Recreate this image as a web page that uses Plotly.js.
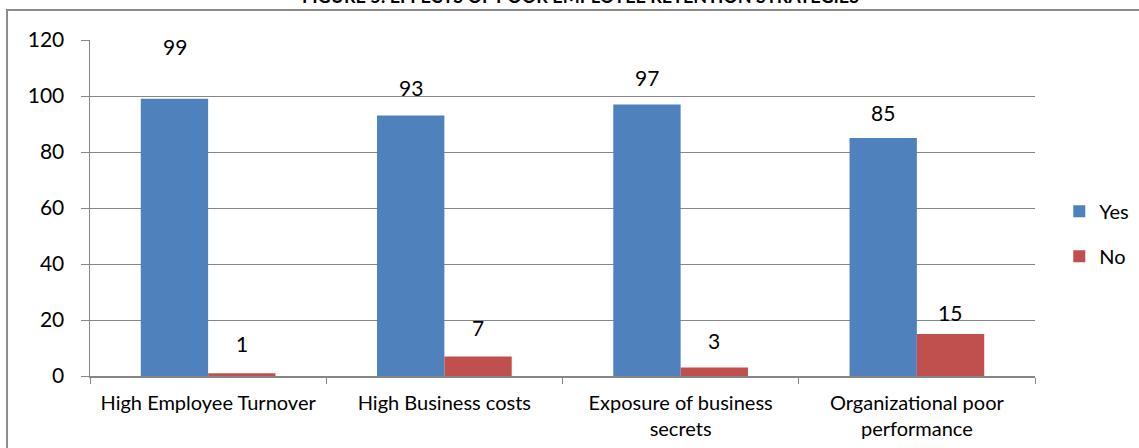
<!DOCTYPE html>
<html>
<head>
<meta charset="utf-8">
<script src="https://cdn.plot.ly/plotly-3.0.1.min.js"></script>
<style>html,body{margin:0;padding:0;background:#fff;}#chart{width:1139px;height:448px;}</style>
</head>
<body>
<div id="chart"></div>
<script>
const categories = ["High Employee Turnover", "High Business costs", "Exposure of business<br>secrets", "Organizational poor<br>performance"];
const yesValues = [99, 93, 97, 85];
const noValues = [1, 7, 3, 15];
const yTicks = [0, 20, 40, 60, 80, 100, 120];

const FONT = "Lato, 'Open Sans', sans-serif";
const blue = "#4F81BD", red = "#C0504D", grid = "#868686";

const traces = [
  {type: "bar", name: "Yes", x: categories, y: yesValues, marker: {color: blue}, legendgroup: "a", hoverinfo: "none"},
  {type: "bar", name: "No", x: categories, y: noValues, marker: {color: red}, legendgroup: "b", hoverinfo: "none"}
];

// data labels above bars
const annotations = [];
const yesShift = [52, 28, 27, 26];
const noShift = [30, 29, 27, 22];
categories.forEach((c, i) => {
  annotations.push({x: i - 0.142, y: yesValues[i], xref: "x", yref: "y", text: String(yesValues[i]), showarrow: false, yshift: yesShift[i], font: {family: FONT, size: 21, color: "#000"}});
  annotations.push({x: i + 0.142, y: noValues[i], xref: "x", yref: "y", text: String(noValues[i]), showarrow: false, yshift: noShift[i], font: {family: FONT, size: 21, color: "#000"}});
});
annotations.push({x: 0.519, y: 1.092, xref: "paper", yref: "paper", yanchor: "bottom", text: "<b>FIGURE 5: EFFECTS OF POOR EMPLOYEE RETENTION STRATEGIES</b>", showarrow: false, font: {family: FONT, size: 18, color: "#000"}});

const layout = {
  width: 1139, height: 448,
  margin: {l: 90, r: 104, t: 40, b: 72, pad: 0, autoexpand: false},
  paper_bgcolor: "#fff", plot_bgcolor: "#fff",
  barmode: "group", bargap: 0.43, bargroupgap: 0,
  showlegend: true,
  legend: {xref: "container", yref: "container", x: 0.930, y: 0.478, xanchor: "left", yanchor: "middle", font: {family: FONT, size: 20, color: "#000"}, tracegroupgap: 16, itemwidth: 30, bgcolor: "rgba(0,0,0,0)"},
  xaxis: {type: "category", tickson: "boundaries", ticks: "outside", ticklen: 6, tickcolor: grid, showline: true, linecolor: grid, linewidth: 1.5, showgrid: false,
          tickfont: {family: FONT, size: 20, color: "#000"}, ticklabelstandoff: 8, fixedrange: true},
  yaxis: {range: [0, 120], tickvals: yTicks, ticktext: yTicks.map(String), ticks: "outside", ticklen: 8, tickcolor: grid, showline: true, linecolor: grid, linewidth: 1.5,
          showgrid: true, gridcolor: grid, gridwidth: 1, zeroline: false, tickfont: {family: FONT, size: 21, color: "#000"}, ticklabelstandoff: 12, fixedrange: true},
  annotations: annotations,
  shapes: [
    {type: "path", xref: "paper", yref: "paper", path: "M -0.0878,-0.22 L -0.0878,1.0893 L 1.12,1.0893", line: {color: "#8c8c8c", width: 2}}
  ]
};

Plotly.newPlot("chart", traces, layout, {displayModeBar: false, staticPlot: true});
</script>
</body>
</html>
